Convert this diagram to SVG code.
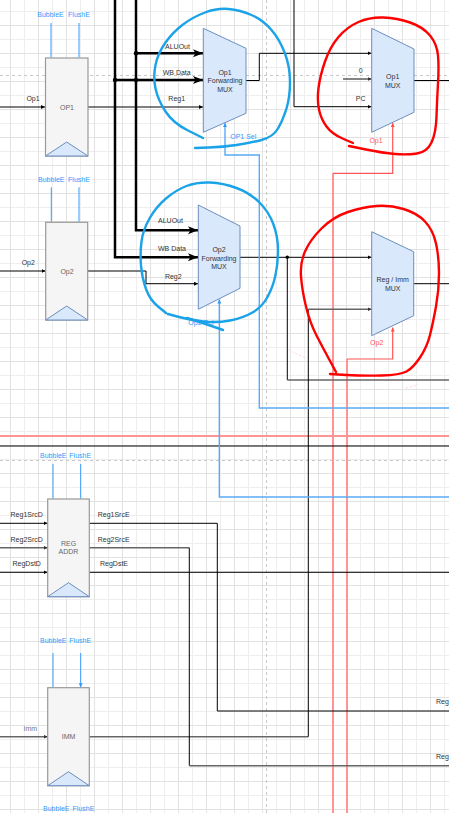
<svg xmlns="http://www.w3.org/2000/svg" width="449" height="813" viewBox="0 0 449 813">
<defs>
<pattern id="gmin" width="14" height="14" patternUnits="userSpaceOnUse"><path d="M10.5,0V14M0,11.5H14" stroke="#eeeeee" stroke-width="1" fill="none"/></pattern>
<pattern id="gmaj" width="28" height="28" patternUnits="userSpaceOnUse"><path d="M10.5,0V28M0,25.5H28" stroke="#e2e2e2" stroke-width="1" fill="none"/></pattern>
<marker id="aB" markerUnits="userSpaceOnUse" markerWidth="5" markerHeight="5" refX="4" refY="2" orient="auto"><path d="M0,0L4,2L0,4z" fill="#000"/></marker>
<marker id="aG" markerUnits="userSpaceOnUse" markerWidth="5" markerHeight="5" refX="4" refY="2" orient="auto"><path d="M0,0L4,2L0,4z" fill="#333"/></marker>
<marker id="aT" markerUnits="userSpaceOnUse" markerWidth="11" markerHeight="9" refX="10" refY="4" orient="auto"><path d="M0,0L10,4L0,8L2.5,4z" fill="#000"/></marker>
<marker id="aL" markerUnits="userSpaceOnUse" markerWidth="5" markerHeight="5" refX="4" refY="2" orient="auto"><path d="M0,0L4,2L0,4z" fill="#3399ff"/></marker>
<marker id="aR" markerUnits="userSpaceOnUse" markerWidth="5" markerHeight="5" refX="4" refY="2" orient="auto"><path d="M0,0L4,2L0,4z" fill="#ff4d4d"/></marker>
</defs>
<style>
text{font-family:"Liberation Sans",Arial,sans-serif;font-size:7px;fill:#333}
.c{text-anchor:middle}
.e{text-anchor:end}
.g{fill:#666}
.bl{fill:#3399ff}
.rd{fill:#ff5555}
.reg{fill:#f5f5f5;stroke:#999;stroke-width:1.2}
.tri{fill:#dae8fc;stroke:#6c8ebf;stroke-width:1}
.mux{fill:#dae8fc;stroke:#6c8ebf;stroke-width:1}
.w{fill:none;stroke:#000;stroke-width:1}
.wg{fill:none;stroke:#666;stroke-width:1.6}
.wt{fill:none;stroke:#000;stroke-width:2.5}
.wb{fill:none;stroke:#3399ff;stroke-width:1}
.ws{fill:none;stroke:#5aaaf5;stroke-width:1.4}
.wp{fill:none;stroke:#ff9494;stroke-width:2}
.wr{fill:none;stroke:#ff5555;stroke-width:1.2}
.dash{fill:none;stroke:#c8c8c8;stroke-width:1;stroke-dasharray:3 3}
.sb{fill:none;stroke:#1aa3e8;stroke-width:2.4;stroke-linecap:round;stroke-linejoin:round}
.sr{fill:none;stroke:#ff0000;stroke-width:2.4;stroke-linecap:round;stroke-linejoin:round}
</style>
<rect width="449" height="813" fill="#fff"/>
<rect width="449" height="813" fill="url(#gmin)"/>
<rect width="449" height="813" fill="url(#gmaj)"/>
<g id="guides">
<path class="dash" d="M0,75.5H449M0,460.5H449M266.5,0V813"/>
</g>
<g id="connectors">
<path class="wp" d="M0,436H449M333,813V173.3M347,813V359"/>
<path class="w" d="M0,446H449"/>
<path class="w" d="M0,107H45" marker-end="url(#aB)"/>
<path class="w" d="M88,107H203" marker-end="url(#aB)"/>
<path class="w" d="M0,271H45.5" marker-end="url(#aB)"/>
<path class="w" d="M87.7,271H146V283.7H198" marker-end="url(#aB)"/>
<path class="w" d="M246,80.5H259.3V53.3H371.5" marker-end="url(#aB)"/>
<path class="w" d="M294,0V106.7H371.5" marker-end="url(#aB)"/>
<path class="wg" d="M343,79H371.5" marker-end="url(#aG)"/>
<path class="w" d="M414,80.5H449"/>
<path class="w" d="M240,257.3H371.5" marker-end="url(#aB)"/>
<path class="w" d="M287.3,257.3V380"/>
<path class="wg" d="M287.3,380H449"/>
<path class="w" d="M413.7,283.7H449"/>
<path class="wg" d="M89.3,736.7H308.3"/>
<path class="w" d="M308.3,736.7V309.3"/>
<path class="wg" d="M308.3,309.3H371.5" marker-end="url(#aG)"/>
<path class="w" d="M0,523.3H47.5" marker-end="url(#aB)"/>
<path class="wg" d="M0,547.7H47.5" marker-end="url(#aG)"/>
<path class="w" d="M0,572.3H47.5" marker-end="url(#aB)"/>
<path class="w" d="M89.3,523.3H217.3V711H449"/>
<path class="wg" d="M89.3,547.7H189.3"/>
<path class="w" d="M189.3,547.7V765.7"/>
<path class="wg" d="M189.3,765.7H449"/>
<path class="w" d="M89.3,572.3H449"/>
<path class="wg" d="M0,736.7H47.5" marker-end="url(#aG)"/>
<path class="wt" d="M115,0V257.3H198" marker-end="url(#aT)"/>
<path class="wt" d="M115,80H203" marker-end="url(#aT)"/>
<path class="wt" d="M136,0V230.3H198" marker-end="url(#aT)"/>
<path class="wt" d="M136,53.3H203" marker-end="url(#aT)"/>
<circle cx="136" cy="53.3" r="2.2" fill="#000"/>
<circle cx="115" cy="80" r="2.2" fill="#000"/>
<circle cx="136" cy="80" r="2.2" fill="#000"/>
<circle cx="287.3" cy="257.3" r="1.8" fill="#000"/>
<path class="ws" d="M449,408H259.3V155H225V123" marker-end="url(#aL)"/>
<path class="ws" d="M449,497H219.3V299.5" marker-end="url(#aL)"/>
<path class="wr" d="M333,173.3H392.7V123" marker-end="url(#aR)"/>
<path class="wr" d="M347,359H392.7V327.5" marker-end="url(#aR)"/>
<path class="wb" d="M51,23V57.5M79,23V57.5M51.3,187.3V221.8M79,187.3V221.8M53,464V498.5M80.7,464V498.5M53,653V687.2M80.7,653V687.2" marker-end="url(#aL)"/>
</g>
<g id="op1reg">
<rect class="reg" x="45.5" y="58" width="42.5" height="98"/>
<path class="tri" d="M45.5,156L66.7,142L88,156z"/>
<text class="c g" x="67" y="109.5">OP1</text>
<text class="c bl" x="50.5" y="17.3">BubbleE</text>
<text class="c bl" x="79" y="17.3">FlushE</text>
<text class="c" x="33" y="101.2">Op1</text>
</g>
<g id="op2reg">
<rect class="reg" x="45.7" y="222.3" width="42" height="97.7"/>
<path class="tri" d="M45.7,320L66.7,306L87.7,320z"/>
<text class="c g" x="67" y="273.5">Op2</text>
<text class="c bl" x="51.3" y="181.5">BubbleE</text>
<text class="c bl" x="79" y="181.5">FlushE</text>
<text class="c" x="28.3" y="265.2">Op2</text>
</g>
<g id="op1fwd">
<path class="mux" d="M203.3,28.3L246,48.3V113.3L203.3,132.3z"/>
<text class="c" x="225" y="74.5">Op1</text>
<text class="c" x="225" y="83">Forwarding</text>
<text class="c" x="225" y="91.5">MUX</text>
<text class="c" x="177.5" y="48.5">ALUOut</text>
<text class="c" x="176.7" y="75.2">WB Data</text>
<text class="c" x="176.7" y="101">Reg1</text>
<text class="c bl" x="243.3" y="138.5">OP1 Sel</text>
</g>
<g id="op2fwd">
<path class="mux" d="M198.3,205L240,226V288.3L198.3,309.3z"/>
<text class="c" x="219" y="251.5">Op2</text>
<text class="c" x="219" y="260.8">Forwarding</text>
<text class="c" x="219" y="269.2">MUX</text>
<text class="c" x="170.5" y="223.2">ALUOut</text>
<text class="c" x="172" y="251.2">WB Data</text>
<text class="c" x="173.3" y="279.2">Reg2</text>
<text class="c bl" x="201" y="325.3">Op2 Sel</text>
</g>
<g id="op1mux">
<path class="mux" d="M371.7,28.3L414,49V112.3L371.7,132.3z"/>
<text class="c" x="392.7" y="79.2">Op1</text>
<text class="c" x="392.7" y="87.8">MUX</text>
<text class="c" x="360.7" y="73.2">0</text>
<text class="c" x="360.7" y="101.2">PC</text>
<text class="c rd" x="376" y="142.5">Op1</text>
</g>
<g id="regimmmux">
<path class="mux" d="M371.7,231.7L413.7,251.7V315.7L371.7,335.7z"/>
<text class="c" x="392.7" y="282.2">Reg / Imm</text>
<text class="c" x="392.7" y="291.2">MUX</text>
<text class="c rd" x="376.7" y="345.2">Op2</text>
</g>
<g id="regaddr">
<rect class="reg" x="47.7" y="499" width="41.6" height="97.7"/>
<path class="tri" d="M47.7,596.7L68.5,582.7L89.3,596.7z"/>
<text class="c g" x="68.5" y="546.2">REG</text>
<text class="c g" x="68.5" y="554.2">ADDR</text>
<text class="c bl" x="53.3" y="457.8">BubbleE</text>
<text class="c bl" x="80.2" y="457.8">FlushE</text>
<text class="c" x="26.7" y="516.8">Reg1SrcD</text>
<text class="c" x="26.7" y="541.5">Reg2SrcD</text>
<text class="c" x="26.7" y="565.8">RegDstD</text>
<text x="97.7" y="516.8">Reg1SrcE</text>
<text x="97.7" y="541.5">Reg2SrcE</text>
<text x="100" y="565.8">RegDstE</text>
</g>
<g id="immreg">
<rect class="reg" x="47.7" y="687.7" width="41.6" height="98"/>
<path class="tri" d="M47.7,785.7L68.5,771.7L89.3,785.7z"/>
<text class="c g" x="68.5" y="739.2">IMM</text>
<text class="c bl" x="53.3" y="643.2">BubbleE</text>
<text class="c bl" x="80.2" y="643.2">FlushE</text>
<text class="c" x="30.3" y="731.2" style="fill:#777">Imm</text>
<text class="c bl" x="56.3" y="811">BubbleE</text>
<text class="c bl" x="83.5" y="811">FlushE</text>
</g>
<g id="rightlabels">
<text x="436" y="704.2">Reg</text>
<text x="436" y="759.2">Reg</text>
</g>
<g id="annotations">
<path d="M285,347Q296,355 307,358M406,388Q412,387 418,384" fill="none" stroke="#ffc4c4" stroke-width="0.8" stroke-dasharray="2 2"/>
<path class="sb" d="M203,138 L188,130.5 Q173,123 165.5,111.5 Q158,100 155.5,88.5 Q153,77 155.5,65 Q158,53 165.5,42.5 Q173,32 183,24.5 Q193,17 205,12.5 Q217,8 228.5,9 Q240,10 251.5,15 Q263,20 271.5,30 Q280,40 285,53.5 Q290,67 290,82 Q290,97 286.5,108.5 Q283,120 278,128.5 Q273,137 261.5,140 Q250,143 236.5,145 Q223,147 209,147.5 L195,148"/>
<path class="sb" d="M166,313 L158,306.5 Q150,300 146,289 Q142,278 141,265.5 Q140,253 141.5,241.5 Q143,230 149.5,218.5 Q156,207 166,198.5 Q176,190 186.5,186 Q197,182 210,182.5 Q223,183 236.5,188 Q250,193 259.5,202.5 Q269,212 273.5,224.5 Q278,237 278,250 Q278,263 275.5,275 Q273,287 267.5,297 Q262,307 252.5,312.5 Q243,318 230,320.5 Q217,323 203.5,321.5 Q190,320 179,317 L168,314"/>
<path class="sb" d="M187,318 Q203,323 223,330" stroke-width="1.8"/>
<path class="sr" d="M353,143 L342.5,138.5 Q332,134 326.5,126.5 Q321,119 319,109.5 Q317,100 318.5,88 Q320,76 325,61.5 Q330,47 338.5,37 Q347,27 358.5,22 Q370,17 383.5,17.5 Q397,18 410,22.5 Q423,27 430,35.5 Q437,44 438,55.5 Q439,67 438,83.5 Q437,100 436.5,116.5 Q436,133 431.5,142.5 Q427,152 417,153.5 Q407,155 395,154 Q383,153 366,149.5 L349,146"/>
<path class="sr" d="M336,372 L329.5,360 Q323,348 316.5,335.5 Q310,323 306,306.5 Q302,290 301,276.5 Q300,263 305,251.5 Q310,240 321.5,228.5 Q333,217 348,212 Q363,207 376.5,206 Q390,205 403.5,209 Q417,213 425,221.5 Q433,230 436,243.5 Q439,257 439,273.5 Q439,290 436,306.5 Q433,323 430,335 Q427,347 420,357.5 Q413,368 406.5,371.5 Q400,375 381.5,375.5 Q363,376 346.5,375 L330,374"/>
</g>
</svg>
